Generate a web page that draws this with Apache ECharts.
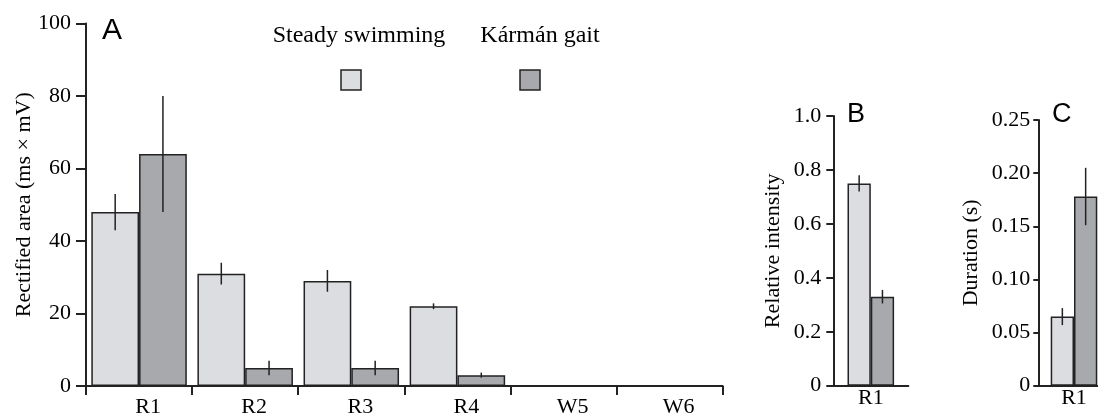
<!DOCTYPE html>
<html>
<head>
<meta charset="utf-8">
<script src="https://cdn.jsdelivr.net/npm/echarts@6/dist/echarts.min.js"></script>
<style>
  html, body { margin: 0; padding: 0; background: #fff; }
  #chart { width: 1098px; height: 417px; }
</style>
</head>
<body>
<div id="chart"></div>
<script>
// Series labels
const seriesNames = ['Steady swimming', 'Kármán gait'];

// Panel A: rectified EMG area per muscle segment
const categoriesA = ['R1', 'R2', 'R3', 'R4', 'W5', 'W6'];
const steadyA    = [48, 31, 29, 22, null, null];
const steadyErrA = [5, 3, 3, 0.8, null, null];
const karmanA    = [64, 5, 5, 3, null, null];
const karmanErrA = [16, 2, 2, 0.7, null, null];

// Panel B: relative intensity
const categoriesB = ['R1'];
const steadyB    = [0.75];
const steadyErrB = [0.03];
const karmanB    = [0.33];
const karmanErrB = [0.025];

// Panel C: burst duration
const categoriesC = ['R1'];
const steadyC    = [0.065];
const steadyErrC = [0.008];
const karmanC    = [0.178];
const karmanErrC = [0.027];

// Axis ticks
const ticksA = { min: 0, max: 100, interval: 20 };
const ticksB = { min: 0, max: 1.0, interval: 0.2 };
const ticksC = { min: 0, max: 0.25, interval: 0.05 };

const LIGHT = '#dcdde0';
const DARK = '#a8a9ad';
const EDGE = '#222';
const INK = '#000';
const SERIF = '"Liberation Serif", "Times New Roman", serif';
const SANS = '"Liberation Sans", Arial, sans-serif';

function errorData(vals, errs) {
  const out = [];
  vals.forEach((v, i) => {
    if (v != null && errs[i] != null) out.push([i, v - errs[i], v + errs[i]]);
  });
  return out;
}

// Vertical error line drawn over the centre of a bar in a grouped pair
function errorRenderer(side, barWidthOf) {
  return function (params, api) {
    const i = api.value(0);
    const lo = api.coord([i, api.value(1)]);
    const hi = api.coord([i, api.value(2)]);
    const band = api.size([1, 0])[0];
    const x = lo[0] + side * barWidthOf(band) / 2;
    return {
      type: 'line',
      shape: { x1: x, y1: lo[1], x2: x, y2: hi[1] },
      style: { stroke: EDGE, lineWidth: 1.5 }
    };
  };
}

function yAxisFor(gridIndex, ticks, name, gap, tickLen, labelMargin, fmt) {
  return {
    type: 'value', gridIndex, min: ticks.min, max: ticks.max, interval: ticks.interval,
    name, nameLocation: 'middle', nameGap: gap, nameMoveOverlap: false,
    nameTextStyle: { fontFamily: SERIF, fontSize: 22, color: INK },
    axisLine: { show: true, lineStyle: { color: EDGE, width: 2 } },
    axisTick: { show: true, length: tickLen, lineStyle: { color: EDGE, width: 2 } },
    axisLabel: { fontFamily: SERIF, fontSize: 22, color: INK, margin: labelMargin, formatter: fmt },
    splitLine: { show: false }
  };
}

function barSeries(name, data, xi, yi, color, extra) {
  return Object.assign({
    type: 'bar', name, data, xAxisIndex: xi, yAxisIndex: yi, barGap: 0,
    itemStyle: { color, borderColor: EDGE, borderWidth: 1.5 },
    emphasis: { disabled: true }, z: 2
  }, extra);
}

function errSeries(data, xi, yi, side, widthOf) {
  return {
    type: 'custom', data, xAxisIndex: xi, yAxisIndex: yi, z: 5,
    encode: { x: 0, y: [1, 2] },
    renderItem: errorRenderer(side, widthOf),
    silent: true
  };
}

const wideBar = band => band * 0.9 / 2;
const narrowBar = () => 23.3;

const option = {
  animation: false,
  backgroundColor: '#fff',
  title: [
    { text: 'A', left: 97, top: 11, textStyle: { fontFamily: SANS, fontSize: 30, fontWeight: 'normal', color: INK } },
    { text: 'B', left: 842, top: 96, textStyle: { fontFamily: SANS, fontSize: 27, fontWeight: 'normal', color: INK } },
    { text: 'C', left: 1047, top: 96, textStyle: { fontFamily: SANS, fontSize: 27, fontWeight: 'normal', color: INK } }
  ],
  graphic: [
    { type: 'text', x: 359, y: 36, style: { text: seriesNames[0], font: '24px ' + SERIF, fill: INK, align: 'center', verticalAlign: 'middle' } },
    { type: 'rect', shape: { x: 341, y: 70, width: 20, height: 20 }, style: { fill: LIGHT, stroke: EDGE, lineWidth: 1.5 } },
    { type: 'text', x: 540, y: 36, style: { text: seriesNames[1], font: '24px ' + SERIF, fill: INK, align: 'center', verticalAlign: 'middle' } },
    { type: 'rect', shape: { x: 520, y: 70, width: 20, height: 20 }, style: { fill: DARK, stroke: EDGE, lineWidth: 1.5 } }
  ],
  grid: [
    { left: 86, top: 23.5, width: 636.7, height: 362.5, containLabel: false, outerBoundsMode: 'none' },
    { left: 833.3, top: 116, width: 75, height: 269.7, containLabel: false, outerBoundsMode: 'none' },
    { left: 1038.3, top: 120, width: 71.4, height: 265.7, containLabel: false, outerBoundsMode: 'none' }
  ],
  xAxis: [
    {
      type: 'category', gridIndex: 0, data: categoriesA,
      axisLine: { lineStyle: { color: EDGE, width: 2 } },
      axisTick: { show: true, length: 9, lineStyle: { color: EDGE, width: 2 } },
      axisLabel: { fontFamily: SERIF, fontSize: 22, color: INK, margin: 10, padding: [0, 0, 0, 18] }
    },
    {
      type: 'category', gridIndex: 1, data: categoriesB,
      axisLine: { lineStyle: { color: EDGE, width: 2 } },
      axisTick: { show: false },
      axisLabel: { fontFamily: SERIF, fontSize: 22, color: INK, margin: 2 }
    },
    {
      type: 'category', gridIndex: 2, data: categoriesC,
      axisLine: { lineStyle: { color: EDGE, width: 2 } },
      axisTick: { show: false },
      axisLabel: { fontFamily: SERIF, fontSize: 22, color: INK, margin: 2 }
    }
  ],
  yAxis: [
    yAxisFor(0, ticksA, 'Rectified area (ms × mV)', 51, 10, 15, v => String(v)),
    yAxisFor(1, ticksB, 'Relative intensity', 49, 7, 12, v => v === 0 ? '0' : v.toFixed(1)),
    yAxisFor(2, ticksC, 'Duration (s)', 56, 5, 8, v => v === 0 ? '0' : v.toFixed(2))
  ],
  series: [
    barSeries(seriesNames[0], steadyA, 0, 0, LIGHT, { barCategoryGap: '10%' }),
    barSeries(seriesNames[1], karmanA, 0, 0, DARK, { barCategoryGap: '10%' }),
    errSeries(errorData(steadyA, steadyErrA), 0, 0, -1, wideBar),
    errSeries(errorData(karmanA, karmanErrA), 0, 0, 1, wideBar),

    barSeries(seriesNames[0], steadyB, 1, 1, LIGHT, { barWidth: 23.3 }),
    barSeries(seriesNames[1], karmanB, 1, 1, DARK, { barWidth: 23.3 }),
    errSeries(errorData(steadyB, steadyErrB), 1, 1, -1, narrowBar),
    errSeries(errorData(karmanB, karmanErrB), 1, 1, 1, narrowBar),

    barSeries(seriesNames[0], steadyC, 2, 2, LIGHT, { barWidth: 23.3 }),
    barSeries(seriesNames[1], karmanC, 2, 2, DARK, { barWidth: 23.3 }),
    errSeries(errorData(steadyC, steadyErrC), 2, 2, -1, narrowBar),
    errSeries(errorData(karmanC, karmanErrC), 2, 2, 1, narrowBar)
  ]
};

const chart = echarts.init(document.getElementById('chart'));
chart.setOption(option);
</script>
</body>
</html>
